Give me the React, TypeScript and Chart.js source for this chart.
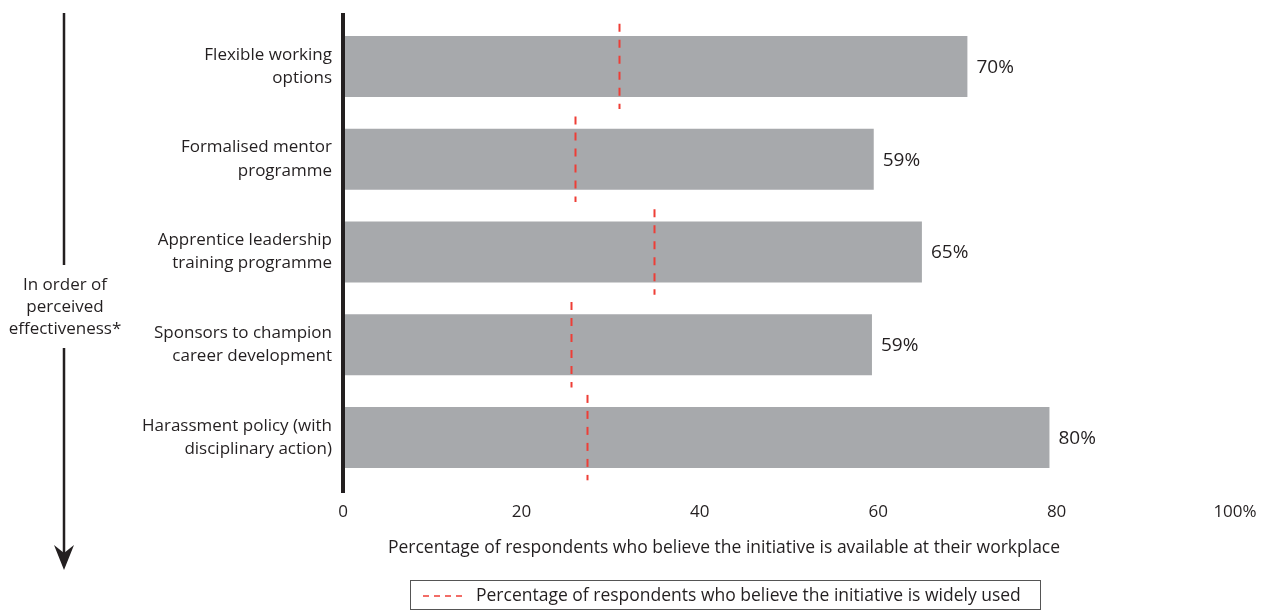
import React, { useEffect, useRef } from "react";
import { Chart, registerables } from "chart.js";

Chart.register(...registerables);

const categories: string[][] = [
  ["Flexible working", "options"],
  ["Formalised mentor", "programme"],
  ["Apprentice leadership", "training programme"],
  ["Sponsors to champion", "career development"],
  ["Harassment policy (with", "disciplinary action)"],
];
const availableValues = [70, 59.5, 64.9, 59.3, 79.2];
const availableLabels = ["70%", "59%", "65%", "59%", "80%"];
const widelyUsedValues = [30.9, 26.0, 34.9, 25.6, 27.3];
const xTickValues = [0, 20, 40, 60, 80, 100];
const axisTitle = "Percentage of respondents who believe the initiative is available at their workplace";
const legendText = "Percentage of respondents who believe the initiative is widely used";
const sideNote = ["In order of", "perceived", "effectiveness*"];

const FAMILY = "'Open Sans', 'Noto Sans', sans-serif";
const INK = "#231f20";
const BAR = "#a7a9ac";
const RED = "#ee3e36";

export default function App() {
  const ref = useRef<HTMLCanvasElement>(null);

  useEffect(() => {
    document.body.style.margin = "0";
    const overlay = {
      id: "overlay",
      afterDatasetsDraw(chart: any) {
        const ctx = chart.ctx as CanvasRenderingContext2D;
        const xs = chart.scales.x;
        const ys = chart.scales.y;
        const area = chart.chartArea;
        const pitch = (area.bottom - area.top) / categories.length;

        // value labels
        const meta = chart.getDatasetMeta(0);
        ctx.save();
        ctx.fillStyle = INK;
        ctx.font = `19px ${FAMILY}`;
        ctx.textAlign = "left";
        ctx.textBaseline = "middle";
        meta.data.forEach((bar: any, i: number) => {
          ctx.fillText(availableLabels[i], bar.x + 9, bar.y + 1);
        });
        ctx.restore();

        // widely used dashed markers
        ctx.save();
        ctx.strokeStyle = RED;
        ctx.lineWidth = 2;
        ctx.setLineDash([8, 8]);
        widelyUsedValues.forEach((v, i) => {
          const x = Math.round(xs.getPixelForValue(v)) + 0.5;
          const yc = ys.getPixelForValue(i);
          const h = pitch * 0.46;
          ctx.beginPath();
          ctx.moveTo(x, yc - h);
          ctx.lineTo(x, yc + h);
          ctx.stroke();
        });
        ctx.restore();

        // main vertical axis line
        const x0 = xs.getPixelForValue(0);
        ctx.save();
        ctx.strokeStyle = INK;
        ctx.lineWidth = 4;
        ctx.beginPath();
        ctx.moveTo(x0, area.top - 7);
        ctx.lineTo(x0, area.bottom + 9);
        ctx.stroke();
        ctx.restore();

        // side annotation arrow
        const ax = 64;
        ctx.save();
        ctx.strokeStyle = INK;
        ctx.fillStyle = INK;
        ctx.lineWidth = 2.5;
        ctx.beginPath();
        ctx.moveTo(ax, area.top - 7);
        ctx.lineTo(ax, 265);
        ctx.moveTo(ax, 348);
        ctx.lineTo(ax, 556);
        ctx.stroke();
        ctx.beginPath();
        ctx.moveTo(ax, 570);
        ctx.lineTo(ax - 10, 545);
        ctx.lineTo(ax, 553);
        ctx.lineTo(ax + 10, 545);
        ctx.closePath();
        ctx.fill();
        ctx.font = `17px ${FAMILY}`;
        ctx.textAlign = "center";
        ctx.textBaseline = "middle";
        sideNote.forEach((t, i) => ctx.fillText(t, 65, 285 + i * 22));
        ctx.restore();

        // axis title
        ctx.save();
        ctx.fillStyle = INK;
        ctx.font = `17.5px ${FAMILY}`;
        ctx.textAlign = "center";
        ctx.textBaseline = "middle";
        ctx.fillText(axisTitle, 724, 548);
        ctx.restore();

        // legend box
        ctx.save();
        ctx.strokeStyle = "#555";
        ctx.lineWidth = 1;
        ctx.strokeRect(410.5, 580.5, 630, 29);
        ctx.strokeStyle = RED;
        ctx.lineWidth = 1.5;
        ctx.setLineDash([6, 5]);
        ctx.beginPath();
        ctx.moveTo(423, 596);
        ctx.lineTo(467, 596);
        ctx.stroke();
        ctx.setLineDash([]);
        ctx.fillStyle = INK;
        ctx.font = `17.5px ${FAMILY}`;
        ctx.textAlign = "left";
        ctx.textBaseline = "middle";
        ctx.fillText(legendText, 476, 596);
        ctx.restore();
      },
    };

    const chart = new Chart(ref.current as HTMLCanvasElement, {
      type: "bar",
      data: {
        labels: categories as any,
        datasets: [
          {
            data: availableValues,
            backgroundColor: BAR,
            borderWidth: 0,
            categoryPercentage: 1,
            barPercentage: 0.657,
          },
        ],
      },
      options: {
        indexAxis: "y",
        responsive: false,
        animation: false,
        layout: { padding: { top: 20, right: 33, bottom: 0, left: 0 } },
        plugins: { legend: { display: false }, tooltip: { enabled: false } },
        scales: {
          x: {
            type: "linear",
            min: 0,
            max: 100,
            afterBuildTicks: (s: any) => {
              s.ticks = xTickValues.map((v) => ({ value: v }));
            },
            ticks: {
              callback: (v: any) => (v === 100 ? "100%" : String(v)),
              font: { family: FAMILY, size: 17 },
              color: INK,
              padding: 18,
              maxRotation: 0,
              autoSkip: false,
            },
            grid: { display: false, drawTicks: false },
            border: { display: false },
            afterFit: (s: any) => {
              s.height = 126;
              s.paddingLeft = 0;
              s.paddingRight = 0;
            },
          },
          y: {
            ticks: {
              font: { family: FAMILY, size: 17, lineHeight: 1.36 },
              color: INK,
              padding: 11,
              autoSkip: false,
            },
            grid: { display: false, drawTicks: false },
            border: { display: false },
            afterFit: (s: any) => {
              s.width = 343;
              s.paddingTop = 0;
              s.paddingBottom = 0;
            },
          },
        },
      } as any,
      plugins: [overlay],
    });
    return () => chart.destroy();
  }, []);

  return (
    <div style={{ width: 1268, height: 610 }}>
      <canvas ref={ref} width={1268} height={610} style={{ display: "block" }} />
    </div>
  );
}
